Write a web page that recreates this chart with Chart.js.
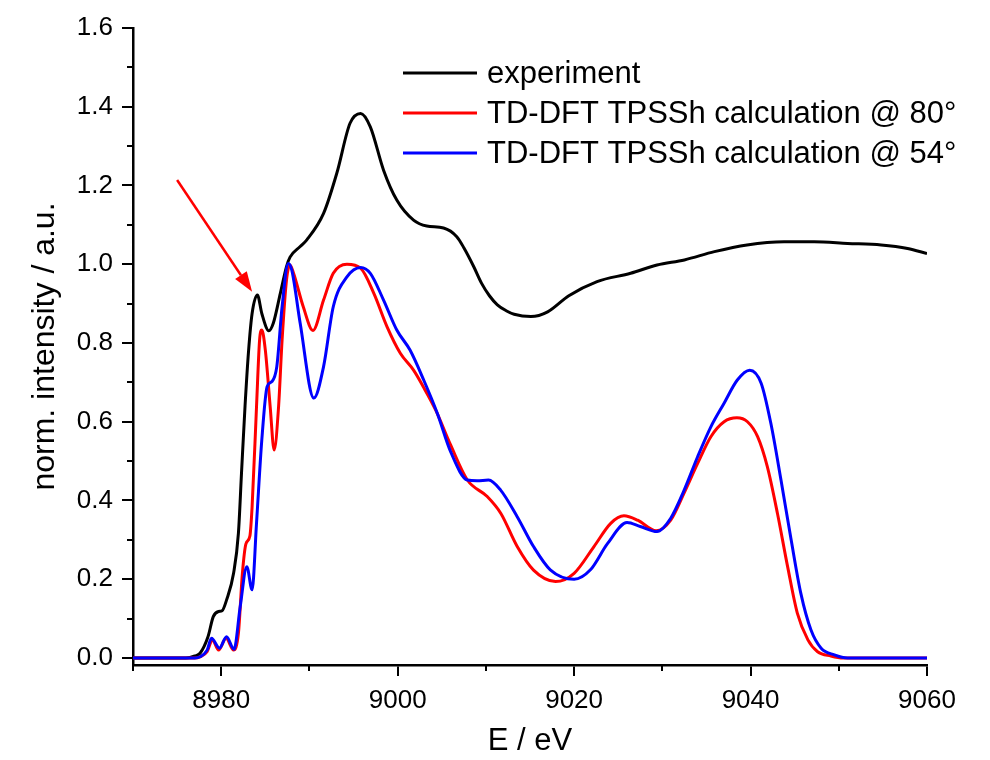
<!DOCTYPE html>
<html>
<head>
<meta charset="utf-8">
<script src="https://cdn.jsdelivr.net/npm/chart.js@4.4.1/dist/chart.umd.min.js"></script>
<style>
html, body { margin: 0; padding: 0; background: #fff; }
</style>
</head>
<body>
<canvas id="c1" width="990" height="760"></canvas>
<script>
// experiment
var expE = [8970, 8976, 8977, 8977.6, 8978.5, 8979.1, 8979.7, 8980.1, 8980.6, 8981.4, 8981.95, 8982.3, 8982.7, 8983.1, 8983.5, 8984.1, 8984.6, 8985.4, 8985.9, 8986.7, 8987.4, 8987.8, 8988.95, 8989.7, 8991.6, 8993.1, 8994.6, 8995.8, 8996.9, 8998.4, 8999.9, 9001.8, 9003.3, 9005.2, 9006.7, 9007.5, 9008.6, 9009.5, 9010.4, 9011.3, 9012.3, 9013.2, 9015.1, 9017.0, 9019.4, 9022.6, 9026.4, 9029.4, 9032.5, 9035.9, 9039.6, 9043.8, 9047.2, 9051, 9054.8, 9057.8, 9060];
var expI = [0, 0, 0.005, 0.012, 0.054, 0.105, 0.118, 0.12, 0.147, 0.215, 0.317, 0.47, 0.64, 0.78, 0.875, 0.922, 0.875, 0.831, 0.85, 0.926, 0.994, 1.018, 1.045, 1.062, 1.129, 1.231, 1.358, 1.383, 1.349, 1.239, 1.163, 1.112, 1.097, 1.092, 1.07, 1.042, 0.995, 0.952, 0.92, 0.897, 0.882, 0.873, 0.867, 0.879, 0.92, 0.956, 0.977, 0.998, 1.011, 1.032, 1.049, 1.057, 1.057, 1.053, 1.049, 1.04, 1.027];

// TD-DFT @ 80
var td80E = [8970, 8977, 8977.6, 8978.4, 8979.0, 8979.7, 8980.55, 8981.4, 8981.95, 8982.4, 8982.8, 8983.25, 8983.5, 8984.0, 8984.35, 8984.6, 8985.0, 8985.55, 8986.0, 8986.5, 8986.9, 8987.4, 8987.8, 8988.2, 8989.3, 8990.4, 8991.6, 8992.7, 8994.25, 8995.8, 8997.3, 8998.8, 9000.3, 9001.8, 9002.9, 9004.3, 9006.0, 9007.9, 9010.15, 9011.7, 9013.55, 9015.4, 9017.9, 9020.0, 9022.25, 9024.15, 9025.65, 9027.2, 9029.3, 9030.95, 9032.45, 9034.0, 9035.5, 9037.0, 9038.45, 9039.65, 9040.8, 9041.9, 9043.05, 9044.2, 9045.3, 9046.5, 9047.6, 9049.1, 9050.5, 9060];
var td80I = [0, 0, 0.003, 0.016, 0.046, 0.02, 0.05, 0.02, 0.063, 0.215, 0.29, 0.31, 0.384, 0.638, 0.808, 0.833, 0.782, 0.638, 0.528, 0.638, 0.808, 0.96, 0.998, 0.977, 0.892, 0.832, 0.909, 0.977, 1.0, 0.99, 0.926, 0.841, 0.774, 0.731, 0.689, 0.63, 0.541, 0.452, 0.41, 0.367, 0.283, 0.223, 0.194, 0.215, 0.283, 0.342, 0.361, 0.35, 0.323, 0.35, 0.418, 0.494, 0.562, 0.6, 0.61, 0.6, 0.562, 0.486, 0.367, 0.232, 0.114, 0.046, 0.016, 0.005, 0, 0];

// TD-DFT @ 54
var td54E = [8970, 8977, 8977.6, 8978.4, 8978.9, 8979.8, 8980.6, 8981.45, 8982.15, 8982.9, 8983.5, 8984.0, 8984.6, 8985.2, 8985.75, 8986.3, 8986.9, 8987.6, 8988.0, 8988.95, 8990.5, 8991.6, 8992.7, 8994.25, 8995.8, 8996.9, 8998.4, 8999.9, 9001.4, 9002.95, 9004.5, 9006.0, 9007.9, 9009.0, 9010.3, 9011.65, 9013.55, 9015.4, 9017.3, 9020.0, 9021.85, 9023.8, 9026.0, 9027.5, 9029.4, 9030.95, 9032.45, 9034.0, 9035.5, 9037.0, 9038.5, 9039.9, 9041.2, 9042.3, 9043.45, 9044.6, 9045.7, 9046.85, 9048.0, 9049.5, 9051, 9060];
var td54I = [0, 0, 0.003, 0.02, 0.05, 0.025, 0.054, 0.022, 0.13, 0.232, 0.173, 0.342, 0.554, 0.689, 0.702, 0.74, 0.892, 1.002, 0.985, 0.85, 0.66, 0.74, 0.892, 0.968, 0.992, 0.977, 0.909, 0.833, 0.782, 0.706, 0.621, 0.524, 0.452, 0.45, 0.452, 0.427, 0.359, 0.283, 0.224, 0.2, 0.224, 0.291, 0.344, 0.334, 0.321, 0.355, 0.425, 0.511, 0.587, 0.647, 0.706, 0.731, 0.698, 0.596, 0.452, 0.3, 0.164, 0.071, 0.025, 0.008, 0, 0];

var labels = ['experiment', 'TD-DFT TPSSh calculation @ 80\u00b0', 'TD-DFT TPSSh calculation @ 54\u00b0'];
var colors = ['#000000', '#ff0000', '#0000ff'];

// ticks
var xTicks = [8980, 9000, 9020, 9040, 9060];
var xMinor = [8970, 8990, 9010, 9030, 9050];
var yTicks = [0.0, 0.2, 0.4, 0.6, 0.8, 1.0, 1.2, 1.4, 1.6];
var yMinor = [0.1, 0.3, 0.5, 0.7, 0.9, 1.1, 1.3, 1.5];

// red arrow, data coords [E, intensity]
var arrowFrom = [8975.0, 1.214];
var arrowTo = [8983.5, 0.93];

function pts(xs, ys) {
  return xs.map(function (x, i) { return { x: x, y: ys[i] }; });
}

var FONT = "'Liberation Sans', Arial, sans-serif";

var minorTicks = {
  id: 'minorTicks',
  afterDraw: function (chart) {
    var ctx = chart.ctx, xs = chart.scales.x, ys = chart.scales.y;
    ctx.save();
    ctx.strokeStyle = '#000';
    ctx.lineWidth = 2;
    ctx.beginPath();
    xMinor.forEach(function (v) {
      var px = Math.round(xs.getPixelForValue(v));
      ctx.moveTo(px, xs.top);
      ctx.lineTo(px, xs.top + 6);
    });
    yMinor.forEach(function (v) {
      var py = Math.round(ys.getPixelForValue(v));
      ctx.moveTo(ys.right, py);
      ctx.lineTo(ys.right - 6, py);
    });
    ctx.stroke();
    ctx.restore();
  }
};

var arrowPlugin = {
  id: 'arrow',
  afterDatasetsDraw: function (chart) {
    var ctx = chart.ctx, xs = chart.scales.x, ys = chart.scales.y;
    var x1 = xs.getPixelForValue(arrowFrom[0]), y1 = ys.getPixelForValue(arrowFrom[1]);
    var x2 = xs.getPixelForValue(arrowTo[0]), y2 = ys.getPixelForValue(arrowTo[1]);
    var a = Math.atan2(y2 - y1, x2 - x1);
    var head = 20, half = 7;
    ctx.save();
    ctx.strokeStyle = '#ff0000';
    ctx.fillStyle = '#ff0000';
    ctx.lineWidth = 2.5;
    ctx.beginPath();
    ctx.moveTo(x1, y1);
    ctx.lineTo(x2 - head * Math.cos(a), y2 - head * Math.sin(a));
    ctx.stroke();
    ctx.beginPath();
    ctx.moveTo(x2, y2);
    ctx.lineTo(x2 - head * Math.cos(a) + half * Math.sin(a), y2 - head * Math.sin(a) - half * Math.cos(a));
    ctx.lineTo(x2 - head * Math.cos(a) - half * Math.sin(a), y2 - head * Math.sin(a) + half * Math.cos(a));
    ctx.closePath();
    ctx.fill();
    ctx.restore();
  }
};

// legend inside plot, top right
var legendPlugin = {
  id: 'innerLegend',
  afterDraw: function (chart) {
    var ctx = chart.ctx, area = chart.chartArea;
    var x0 = area.left + 270, y0 = area.top + 45, row = 40;
    ctx.save();
    ctx.font = '31px ' + FONT;
    ctx.textBaseline = 'middle';
    ctx.fillStyle = '#000';
    chart.data.datasets.forEach(function (ds, i) {
      var y = y0 + i * row;
      ctx.strokeStyle = ds.borderColor;
      ctx.lineWidth = 3;
      ctx.beginPath();
      ctx.moveTo(x0, y);
      ctx.lineTo(x0 + 74, y);
      ctx.stroke();
      ctx.fillText(ds.label, x0 + 84, y + 1);
    });
    ctx.restore();
  }
};

var ctx = document.getElementById('c1').getContext('2d');
var chart1 = new Chart(ctx, {
  type: 'scatter',
  data: {
    datasets: [{
      label: labels[0],
      data: pts(expE, expI),
      borderColor: colors[0],
      order: 2
    }, {
      label: labels[1],
      data: pts(td80E, td80I),
      borderColor: colors[1],
      order: 1
    }, {
      label: labels[2],
      data: pts(td54E, td54I),
      borderColor: colors[2],
      order: 0
    }]
  },
  options: {
    responsive: false,
    animation: false,
    devicePixelRatio: 1,
    showLine: true,
    elements: {
      point: { radius: 0 },
      line: { borderWidth: 3, cubicInterpolationMode: 'monotone', fill: false }
    },
    layout: { padding: { left: 0, top: 28, right: 63, bottom: 0 } },
    plugins: {
      legend: { display: false },
      tooltip: { enabled: false }
    },
    scales: {
      x: {
        type: 'linear',
        min: 8970,
        max: 9060,
        afterBuildTicks: function (s) { s.ticks = xTicks.map(function (v) { return { value: v }; }); },
        afterFit: function (s) { s.height = 95; },
        ticks: {
          color: '#000',
          font: { family: FONT, size: 26 },
          padding: 9,
          maxRotation: 0,
          autoSkip: false,
          callback: function (v) { return String(v); }
        },
        grid: { drawOnChartArea: false, drawTicks: true, tickLength: 11, color: '#000', lineWidth: 2 },
        border: { color: '#000', width: 2.5 },
        title: {
          display: true,
          text: 'E / eV',
          color: '#000',
          font: { family: FONT, size: 31 },
          padding: { top: 0, bottom: 0 }
        }
      },
      y: {
        type: 'linear',
        min: -0.0178,
        max: 1.6,
        afterBuildTicks: function (s) { s.ticks = yTicks.map(function (v) { return { value: v }; }); },
        afterFit: function (s) { s.width = 133; },
        ticks: {
          color: '#000',
          font: { family: FONT, size: 26 },
          padding: 9,
          callback: function (v) { return v.toFixed(1); }
        },
        grid: { drawOnChartArea: false, drawTicks: true, tickLength: 11, color: '#000', lineWidth: 2 },
        border: { color: '#000', width: 2.5 },
        title: {
          display: true,
          text: 'norm. intensity / a.u.',
          color: '#000',
          font: { family: FONT, size: 32 },
          padding: { top: 26, bottom: 0 }
        }
      }
    }
  },
  plugins: [minorTicks, arrowPlugin, legendPlugin]
});
</script>
</body>
</html>
